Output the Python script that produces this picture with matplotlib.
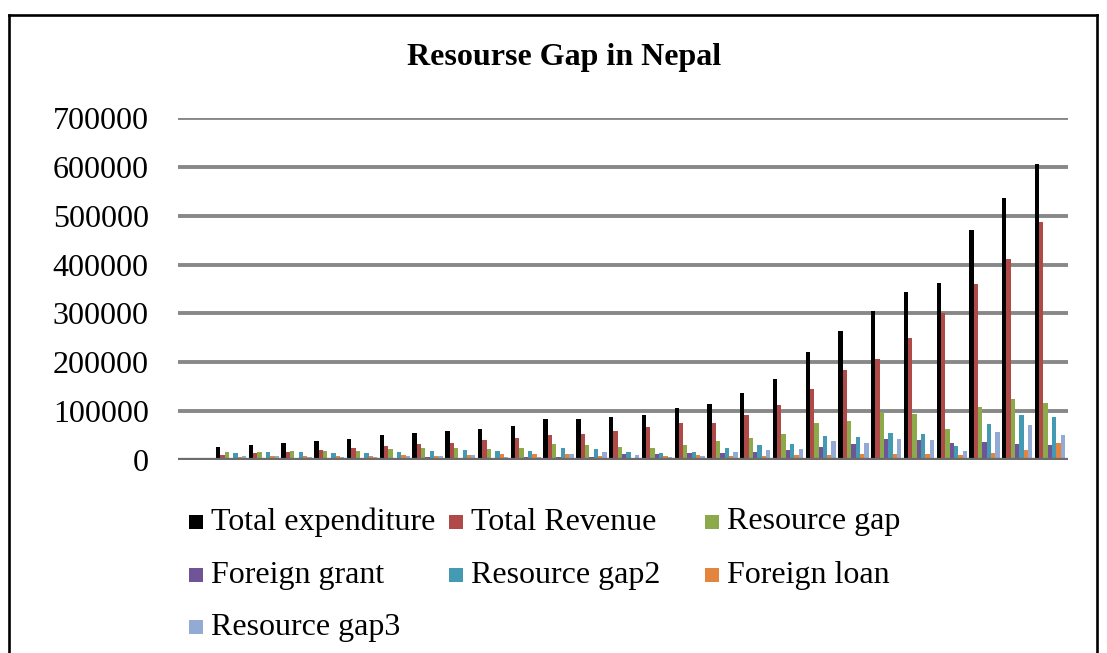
import matplotlib
matplotlib.use("Agg")
import matplotlib.pyplot as plt
from matplotlib.patches import Rectangle
from matplotlib.lines import Line2D
import numpy as np

# ---- data (Rs. million), one value per fiscal period ----
periods = list(range(1, 27))

total_expenditure = [27000, 31000, 34000, 38000, 43000, 51000, 56000, 60000, 63000, 70000,
                     83000, 83000, 87000, 92000, 106000, 114000, 138000, 165000, 222000, 264000,
                     304000, 343000, 362000, 470000, 537000, 605000]
total_revenue = [11000, 14000, 16000, 20000, 25000, 29000, 32000, 35000, 41000, 46000,
                 51000, 53000, 60000, 67000, 75000, 76000, 92000, 112000, 146000, 184000,
                 206000, 249000, 300000, 361000, 412000, 488000]
resource_gap = [16000, 17000, 18000, 18000, 18000, 22000, 24000, 25000, 22000, 24000,
                32000, 30000, 27000, 25000, 31000, 38000, 46000, 53000, 76000, 80000,
                98000, 94000, 63000, 109000, 125000, 117000]
foreign_grant = [2400, 1600, 2400, 3800, 3900, 4800, 6000, 4300, 4300, 5700,
                 6800, 6700, 11300, 11300, 14400, 13800, 15800, 20300, 26400, 33000,
                 42800, 40800, 35000, 36000, 33000, 30000]
resource_gap2 = [13600, 15400, 15600, 14200, 14100, 17200, 18000, 20700, 17700, 18300,
                 25200, 23300, 15700, 13700, 16600, 24200, 30200, 32700, 49600, 47000,
                 55200, 53200, 28000, 73000, 92000, 87000]
foreign_loan = [6300, 7700, 9200, 7300, 7300, 9500, 9000, 11000, 11900, 11800,
                12000, 7700, 4500, 7600, 9300, 8200, 8900, 10000, 10600, 12000,
                12400, 11300, 10000, 15000, 20000, 35000]
resource_gap3 = [7300, 7700, 6400, 6900, 6800, 7700, 9000, 9700, 5800, 6500,
                 13200, 15600, 11200, 6100, 7300, 16000, 21300, 22700, 39000, 35000,
                 42800, 41900, 18000, 58000, 72000, 52000]

series_names = ["Total expenditure", "Total Revenue", "Resource gap", "Foreign grant",
                "Resource gap2", "Foreign loan", "Resource gap3"]
series_values = [total_expenditure, total_revenue, resource_gap, foreign_grant,
                 resource_gap2, foreign_loan, resource_gap3]
series_colors = ["#000000", "#B04A48", "#8CA94C", "#6F5597", "#4499B3", "#E3853D", "#93ABD4"]

y_ticks = [0, 100000, 200000, 300000, 400000, 500000, 600000, 700000]

# ---- figure ----
W, H = 1107, 653
fig = plt.figure(figsize=(W / 100, H / 100), dpi=100)
fig.patch.set_facecolor("white")
serif = ["Liberation Serif", "DejaVu Serif"]

ax = fig.add_axes([178 / W, 1 - 460 / H, (1068 - 178) / W, (460 - 118) / H])
ax.set_facecolor("white")

x = np.arange(len(periods))
step = 0.132
bar_w = 0.132
for k, (vals, col) in enumerate(zip(series_values, series_colors)):
    ax.bar(x + (k - 3) * step, vals, width=bar_w, color=col, zorder=3, linewidth=0)

ax.set_xlim(-1.62, 25.55)
ax.set_ylim(0, 700000)
ax.set_yticks(y_ticks)
ax.set_yticklabels([str(v) for v in y_ticks], fontfamily=serif, fontsize=23)
ax.tick_params(axis="y", length=0, pad=21)
ax.set_xticks([])
for s in ax.spines.values():
    s.set_visible(False)

for v in y_ticks[1:]:
    ax.axhline(v, color="#888888", lw=2.8, zorder=1)
ax.axhline(0, color="#6c6c6c", lw=3.8, zorder=4)

# title
fig.text(564 / W, 1 - 57 / H, "Resourse Gap in Nepal", ha="center", va="center",
         fontfamily=serif, fontsize=23, fontweight="bold")

# legend drawn as swatches + labels in three columns
legend_cols = [189, 449, 705]
legend_rows = [522, 575, 627]
for i, (name, col) in enumerate(zip(series_names, series_colors)):
    r, c = divmod(i, 3)
    x0 = legend_cols[c]
    yc = legend_rows[r]
    fig.patches.append(Rectangle((x0 / W, 1 - (yc + 7) / H), 14 / W, 14 / H,
                                 transform=fig.transFigure, facecolor=col,
                                 edgecolor="none"))
    fig.text((x0 + 22) / W, 1 - yc / H, name, ha="left", va="center",
             fontfamily=serif, fontsize=23)

# outer frame (open at the bottom edge of the canvas)
for xs, ys in [([9 / W, 9 / W], [0, 1 - 15 / H]),
               ([9 / W, 1097 / W], [1 - 15 / H, 1 - 15 / H]),
               ([1097 / W, 1097 / W], [1 - 15 / H, 0])]:
    fig.lines.append(Line2D(xs, ys, transform=fig.transFigure, color="black", lw=1.9))

fig.savefig("out.png", dpi=100)
